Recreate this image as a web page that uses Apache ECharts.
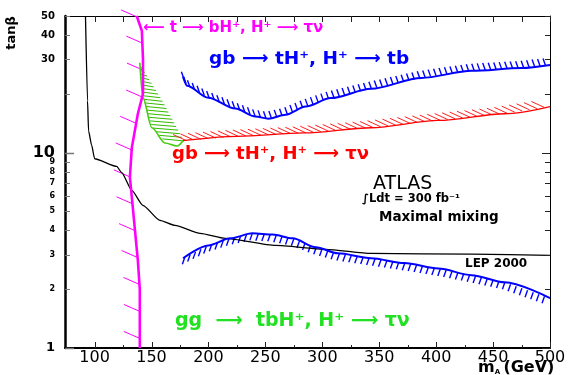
<!DOCTYPE html>
<html>
<head>
<meta charset="utf-8">
<script src="https://cdn.jsdelivr.net/npm/echarts@6/dist/echarts.min.js"></script>
<style>
  html, body { margin: 0; padding: 0; background: #fff; }
  #chart { width: 571px; height: 375px; }
</style>
</head>
<body>
<div id="chart"></div>
<script>
// tick values / labels
const xLabels = [100, 150, 200, 250, 300, 350, 400, 450, 500]
const xMinorTicks = [125, 175, 225, 275, 325, 375, 425, 475]
const yLabels = [1, 2, 3, 4, 5, 6, 7, 8, 9, 10, 30, 40, 50]
const yMajorTicks = [1, 10]
const yMinorTicks = [2, 3, 4, 5, 6, 7, 8, 9, 20, 30, 40, 50]

// LEP 2000 exclusion (black)
const lepM = [92, 93.8, 94.7, 97.4, 100, 119.4, 123.8, 132.7, 142.4, 157.4, 170.6, 192.7, 214.8, 258.9, 303.1, 342.8, 431.1, 500]
const lepTanb = [50, 18.4, 12.9, 10.9, 9.3, 8.5, 7.9, 6.4, 5.37, 4.5, 4.24, 3.86, 3.64, 3.35, 3.2, 3.05, 3.02, 2.98]

// t -> bH+ (magenta)
const topM = [137, 141.5, 142.5, 142.5, 138, 135.3, 132.7, 131, 132.7, 138, 139.7, 139.7]
const topTanb = [50, 42, 30, 20, 15.8, 12.9, 10.6, 7.5, 5.9, 2.8, 2.0, 1]

// gg -> tbH+, H+ -> tau nu (green curve and right edge of its hatching)
const ggM = [139.7, 142.4, 150.3, 161.8, 172.4, 177.7]
const ggTanb = [28.8, 19.1, 13.4, 11.2, 10.8, 11.5]
const ggEdgeM = [140.6, 160, 174.2, 178.6]
const ggEdgeTanb = [28.1, 18.4, 12.9, 11.5]

// gb -> tH+, H+ -> tau nu (red)
const tauM = [177.7, 225.4, 283.7, 342.8, 402, 460.3, 500]
const tauTanb = [11.5, 12.1, 12.6, 13.4, 14.6, 15.8, 17.2]

// gb -> tH+, H+ -> tb, upper branch (blue)
const tbHiM = [177.7, 181.2, 199.8, 223.6, 241.3, 252.8, 267.8, 285.4, 307.5, 342.8, 387, 431.1, 475.3, 500]
const tbHiTanb = [24.4, 22.0, 19.1, 16.8, 15.3, 14.9, 15.6, 17.2, 19.0, 21.2, 24.1, 26.2, 27.1, 28.1]

// gb -> tH+, H+ -> tb, lower branch (blue)
const tbLoM = [177.7, 199.8, 219.2, 238.6, 256.3, 274, 294.3, 313.7, 342.8, 372, 402, 431.1, 460.3, 500]
const tbLoTanb = [2.88, 3.35, 3.64, 3.86, 3.81, 3.64, 3.28, 3.05, 2.88, 2.72, 2.55, 2.36, 2.17, 1.8]

const pairs = (xs, ys) => xs.map((x, i) => [x, ys[i]])
const FONT = 'DejaVu Sans'

function curve(xs, ys, color, width, smooth) {
  return {
    type: 'line', data: pairs(xs, ys), symbol: 'none', smooth: smooth, smoothMonotone: 'x',
    lineStyle: { color, width }, silent: true, z: 4,
  }
}

// short strokes laid along a curve
function hatch(xs, ys, color, step, dx, dy, width, start) {
  return {
    type: 'custom', silent: true, z: 3, data: [[100, 2]],
    renderItem(params, api) {
      const pts = xs.map((x, i) => api.coord([x, ys[i]]))
      const children = []
      let t = start
      for (let i = 1; i < pts.length; i++) {
        const [x0, y0] = pts[i - 1]
        const [x1, y1] = pts[i]
        const len = Math.hypot(x1 - x0, y1 - y0)
        while (t <= len) {
          const px = x0 + (x1 - x0) * t / len
          const py = y0 + (y1 - y0) * t / len
          children.push({ type: 'line', shape: { x1: px, y1: py, x2: px + dx, y2: py + dy }, style: { stroke: color, lineWidth: width } })
          t += step
        }
        t -= len
      }
      return { type: 'group', children }
    },
  }
}

// x of a pixel polyline at height y
function xAtY(pts, y) {
  for (let i = 1; i < pts.length; i++) {
    const [x0, y0] = pts[i - 1], [x1, y1] = pts[i]
    if ((y - y0) * (y - y1) <= 0 && y1 !== y0) return x0 + (x1 - x0) * (y - y0) / (y1 - y0)
  }
  return null
}

// green hatched wedge between the curve and its edge
const greenFill = {
  type: 'custom', silent: true, z: 3, data: [[100, 2]],
  renderItem(params, api) {
    const curvePts = ggM.map((x, i) => api.coord([x, ggTanb[i]]))
    const edgePts = ggEdgeM.map((x, i) => api.coord([x, ggEdgeTanb[i]]))
    const yTop = edgePts[0][1], yBot = edgePts[edgePts.length - 1][1]
    const children = []
    for (let y = yTop + 3; y < yBot + 2; y += 3.6) {
      const xl = xAtY(curvePts, y)
      const xr = xAtY(edgePts, Math.min(y, yBot))
      if (xl !== null && xr !== null && xr > xl + 1) {
        children.push({ type: 'line', shape: { x1: xl, y1: y - 1, x2: xr, y2: y + 1 }, style: { stroke: '#33bb00', lineWidth: 1 } })
      }
    }
    return { type: 'group', children }
  },
}

// frame ticks, all pointing inward
const frameTicks = {
  type: 'custom', silent: true, z: 5, data: [[100, 2]],
  renderItem(params, api) {
    const cs = params.coordSys
    const top = cs.y, bot = cs.y + cs.height, left = cs.x, right = cs.x + cs.width
    const st = { stroke: '#222', lineWidth: 1 }
    const c = []
    xLabels.concat(xMinorTicks).forEach((v) => {
      const px = Math.round(api.coord([v, 1])[0]) + 0.5
      const major = xLabels.includes(v)
      c.push({ type: 'line', shape: { x1: px, y1: bot, x2: px, y2: bot - (major ? 6 : 3) }, style: st })
      c.push({ type: 'line', shape: { x1: px, y1: top, x2: px, y2: top + 6 }, style: st })
    })
    yMajorTicks.concat(yMinorTicks).forEach((v) => {
      const py = Math.round(api.coord([100, v])[1]) + 0.5
      const major = yMajorTicks.includes(v)
      c.push({ type: 'line', shape: { x1: left, y1: py, x2: left + (major ? 9 : 5), y2: py }, style: { stroke: '#777', lineWidth: major ? 1.5 : 1 } })
      c.push({ type: 'line', shape: { x1: right, y1: py, x2: right - (major ? 8 : 5), y2: py }, style: st })
    })
    return { type: 'group', children: c }
  },
}

const chart = echarts.init(document.getElementById('chart'))

const txt = (text, x, y, size, color, weight) => ({
  type: 'text', left: x, top: y, silent: true, z: 10,
  style: { text, fill: color, font: `${weight || 'bold'} ${size}px "${FONT}"` },
})

chart.setOption({
  backgroundColor: '#fff',
  animation: false,
  grid: { left: 65, right: 21, top: 16, bottom: 27 },
  xAxis: [
    {
      type: 'value', min: 74, max: 500, position: 'bottom',
      axisLine: { lineStyle: { color: '#000', width: 2 } },
      axisTick: { show: false }, splitLine: { show: false },
      axisLabel: { customValues: xLabels, color: '#000', fontFamily: FONT, fontSize: 16, margin: 2 },
    },
    {
      type: 'value', min: 74, max: 500, position: 'top',
      axisLine: { lineStyle: { color: '#000', width: 1 } },
      axisTick: { show: false }, splitLine: { show: false }, axisLabel: { show: false },
    },
  ],
  yAxis: [
    {
      type: 'log', logBase: 10, min: 1, max: 50, position: 'left',
      axisLine: { show: true, lineStyle: { color: '#000', width: 2.5 } },
      axisTick: { show: false }, splitLine: { show: false },
      axisLabel: {
        customValues: yLabels, margin: 10, color: '#000',
        formatter: (v) => {
          const n = Math.round(v)
          if (n === 10) return '{b|10}'
          if (n === 1) return '{m|1}'
          if (n >= 30) return '{t|' + n + '}'
          return '{s|' + n + '}'
        },
        rich: {
          b: { fontFamily: FONT, fontWeight: 'bold', fontSize: 16, color: '#000' },
          m: { fontFamily: FONT, fontWeight: 'bold', fontSize: 13, color: '#000' },
          t: { fontFamily: FONT, fontWeight: 'bold', fontSize: 10, color: '#000' },
          s: { fontFamily: FONT, fontWeight: 'bold', fontSize: 8, color: '#000' },
        },
      },
    },
    {
      type: 'log', logBase: 10, min: 1, max: 50, position: 'right',
      axisLine: { show: true, lineStyle: { color: '#000', width: 1 } },
      axisTick: { show: false }, splitLine: { show: false }, axisLabel: { show: false },
    },
  ],
  series: [
    greenFill,
    hatch(tauM, tauTanb, '#ff2020', 7.5, -13, -6, 1, 3),
    hatch(tbHiM, tbHiTanb, '#0000ff', 5.5, -2.5, -7, 1.4, 2),
    hatch(tbLoM, tbLoTanb, '#0000ff', 6, -2.5, 7, 1.4, 2),
    hatch(topM, topTanb, '#ff00ff', 27, -16, -7, 1, 1),
    curve(lepM, lepTanb, '#000', 1.3, 0.2),
    curve(ggM, ggTanb, '#44cc11', 1.6, 0.3),
    curve(tauM, tauTanb, '#ff0000', 1.3, 0.3),
    curve(tbHiM, tbHiTanb, '#0000ff', 2, 0.3),
    curve(tbLoM, tbLoTanb, '#0000ff', 2, 0.3),
    curve(topM, topTanb, '#ff00ff', 2.6, false),
    frameTicks,
  ],
  graphic: [
    {
      type: 'text', x: 12, y: 33, rotation: Math.PI / 2, silent: true, z: 10,
      style: { text: 'tanβ', fill: '#000', font: `bold 13px "${FONT}"`, align: 'center', verticalAlign: 'middle' },
    },
    txt('⟵ t ⟶ bH⁺, H⁺ ⟶ τν', 143, 21, 15, '#ff00ff'),
    txt('gb ⟶ tH⁺, H⁺ ⟶ tb', 209, 50, 18.5, '#0000ff'),
    txt('gb ⟶ tH⁺, H⁺ ⟶ τν', 172, 145, 18, '#ff0000'),
    txt('gg  ⟶  tbH⁺, H⁺ ⟶ τν', 175, 312, 19, '#22e022'),
    txt('ATLAS', 373, 175, 19, '#000', 'normal'),
    txt('∫Ldt = 300 fb⁻¹', 362, 193, 11.5, '#000'),
    txt('Maximal mixing', 379, 210, 13.5, '#000'),
    txt('LEP 2000', 465, 258, 12, '#000'),
    {
      type: 'text', left: 478, top: 360, silent: true, z: 10,
      style: {
        text: '{a|m}{s|A} {a|(GeV)}',
        rich: {
          a: { font: `bold 16px "${FONT}"`, fill: '#000' },
          s: { font: `bold 7px "${FONT}"`, fill: '#000', verticalAlign: 'bottom' },
        },
      },
    },
  ],
})
</script>
</body>
</html>
